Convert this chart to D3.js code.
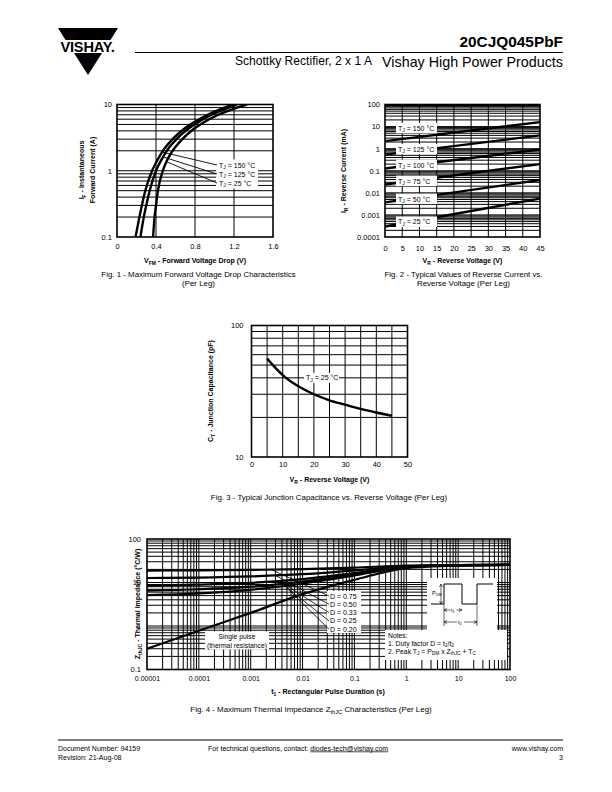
<!DOCTYPE html>
<html><head><meta charset="utf-8">
<script src="https://cdn.jsdelivr.net/npm/d3@7"></script>
<style>
body{margin:0;background:#fff}
svg{display:block}
text{font-family:"Liberation Sans",Arial,Helvetica,sans-serif;fill:#000}
</style>
</head><body>
<svg id="c" width="612" height="792"></svg>
<script>
// ---------------- DATA ----------------
// Fig 1: forward current (A) vs forward voltage (V)
const fig1Current = [0.1, 0.2, 0.3, 0.5, 1, 1.5, 2, 3, 4.3, 5.5, 7, 10];
const fig1V150 = [0.19, 0.23, 0.255, 0.29, 0.36, 0.42, 0.47, 0.57, 0.69, 0.80, 0.93, 1.19];
const fig1V125 = [0.24, 0.275, 0.30, 0.335, 0.40, 0.46, 0.51, 0.61, 0.73, 0.84, 0.97, 1.23];
const fig1V25  = [0.37, 0.385, 0.40, 0.42, 0.47, 0.52, 0.57, 0.67, 0.79, 0.90, 1.04, 1.33];
const fig1XTicks = [0, 0.4, 0.8, 1.2, 1.6];
const fig1XTickLabels = ["0", "0.4", "0.8", "1.2", "1.6"];
const fig1YTicks = [0.1, 1, 10];
const fig1YTickLabels = ["0.1", "1", "10"];
const fig1Temps = ["150", "125", "25"];
const fig1LeaderCurrent = [1.9, 1.6, 1.35];

// Fig 2: reverse current (mA) vs reverse voltage (V)
const fig2Voltage = [0, 45];
const fig2I150 = [2.2, 16];
const fig2I125 = [0.54, 4.0];
const fig2I100 = [0.126, 0.9];
const fig2I75  = [0.024, 0.2];
const fig2I50  = [0.0037, 0.038];
const fig2I25  = [0.0003, 0.0055];
const fig2Temps = ["150", "125", "100", "75", "50", "25"];
const fig2LabelAt = [8.3, 0.93, 0.18, 0.034, 0.0052, 0.00048];
const fig2XTicks = [0, 5, 10, 15, 20, 25, 30, 35, 40, 45];
const fig2YTicks = [0.0001, 0.001, 0.01, 0.1, 1, 10, 100];
const fig2YTickLabels = ["0.0001", "0.001", "0.01", "0.1", "1", "10", "100"];

// Fig 3: junction capacitance (pF) vs reverse voltage (V)
const fig3Voltage = [5, 10, 15, 20, 25, 30, 35, 40, 45];
const fig3Cap = [56, 42, 34.5, 30, 27, 25, 23.2, 21.8, 20.6];
const fig3XTicks = [0, 10, 20, 30, 40, 50];
const fig3YTicks = [10, 100];
const fig3LabelAt = [25, 40];

// Fig 4: thermal impedance (°C/W) vs pulse duration (s)
const fig4Time = [1e-5, 1e-4, 1e-3, 1e-2, 1e-1, 1, 10, 100];
const fig4D075 = [18.8, 19.0, 19.5, 20.3, 22.0, 24.5, 25.2, 25.5];
const fig4D050 = [12.7, 13.0, 13.8, 15.5, 19.0, 23.5, 25.0, 25.5];
const fig4D033 = [8.5, 8.9, 9.8, 12.0, 16.5, 23.0, 25.0, 25.5];
const fig4D025 = [6.5, 7.0, 8.0, 10.5, 15.5, 22.5, 24.8, 25.5];
const fig4D020 = [5.1, 5.6, 6.8, 9.5, 14.5, 22.5, 24.8, 25.5];
const fig4Single = [0.30, 0.78, 2.0, 5.4, 11.5, 21.5, 24.6, 25.5];
const fig4DLabels = ["D = 0.75", "D = 0.50", "D = 0.33", "D = 0.25", "D = 0.20"];
const fig4LeaderTime = [0.0025, 0.003, 0.0035, 0.004, 0.0045];
const fig4XTicks = [1e-5, 1e-4, 1e-3, 1e-2, 1e-1, 1, 10, 100];
const fig4XTickLabels = ["0.00001", "0.0001", "0.001", "0.01", "0.1", "1", "10", "100"];
const fig4YTicks = [0.1, 1, 10, 100];
const fig4YTickLabels = ["0.1", "1", "10", "100"];

// ---------------- HELPERS ----------------
const svg = d3.select("#c");
const FONT = '"Liberation Sans",Arial,Helvetica,sans-serif';
const CAP = 7.9;

function minorLog(lo, hi) {
  const out = [];
  for (let k = Math.floor(Math.log10(lo)) - 1; k <= Math.ceil(Math.log10(hi)); k++) {
    for (let m = 1; m < 10; m++) {
      const v = m * Math.pow(10, k);
      if (v > lo * 1.0001 && v < hi * 0.9999) out.push(v);
    }
  }
  return out;
}
function rich(sel, parts, fs, shift) {
  let down = false;
  parts.forEach(p => {
    const isSub = Array.isArray(p);
    const t = sel.append("tspan").text(isSub ? p[0] : p);
    if (isSub) {
      t.attr("font-size", fs * 0.72);
      if (!down) { t.attr("dy", shift); down = true; }
    } else {
      if (down) { t.attr("dy", -shift); down = false; }
    }
  });
  return sel;
}
function txt(x, y, s, opt = {}) {
  const t = svg.append("text").attr("x", x).attr("y", y)
    .attr("font-size", opt.fs || 7.5)
    .attr("text-anchor", opt.anchor || "start")
    .attr("font-weight", opt.bold ? "bold" : "normal");
  if (typeof s === "string") t.text(s); else rich(t, s, opt.fs || 7.5, opt.shift || 2);
  return t;
}
function rtxt(x, y, s, opt = {}) {
  const t = svg.append("text").attr("transform", `translate(${x},${y}) rotate(-90)`)
    .attr("font-size", opt.fs || 7.5).attr("text-anchor", "middle")
    .attr("font-weight", opt.bold ? "bold" : "normal");
  if (typeof s === "string") t.text(s); else rich(t, s, opt.fs || 7.5, opt.shift || 2);
  return t;
}
function hgrid(g, vals, sx, sy, x0, x1, w) {
  g.selectAll(null).data(vals).enter().append("line")
    .attr("x1", x0).attr("x2", x1).attr("y1", d => sy(d)).attr("y2", d => sy(d))
    .attr("stroke", "#000").attr("stroke-width", w || 1);
}
function vgrid(g, vals, sx, y0, y1, w) {
  g.selectAll(null).data(vals).enter().append("line")
    .attr("x1", d => sx(d)).attr("x2", d => sx(d)).attr("y1", y0).attr("y2", y1)
    .attr("stroke", "#000").attr("stroke-width", w || 1);
}
function frame(g, x0, y0, x1, y1) {
  g.append("rect").attr("x", x0).attr("y", y0).attr("width", x1 - x0).attr("height", y1 - y0)
    .attr("fill", "none").attr("stroke", "#000").attr("stroke-width", 1.6);
}
function axisB(g, sx, y, ticks, labels, pad, fs) {
  const ax = d3.axisBottom(sx).tickValues(ticks).tickSize(0).tickPadding(pad)
    .tickFormat((d, i) => labels[i]);
  const a = g.append("g").attr("transform", `translate(0,${y})`).call(ax);
  a.select(".domain").remove();
  a.attr("font-family", FONT).attr("font-size", fs || 7.5);
  return a;
}
function axisL(g, sy, x, ticks, labels, pad, fs) {
  const ax = d3.axisLeft(sy).tickValues(ticks).tickSize(0).tickPadding(pad)
    .tickFormat((d, i) => labels[i]);
  const a = g.append("g").attr("transform", `translate(${x},0)`).call(ax);
  a.select(".domain").remove();
  a.attr("font-family", FONT).attr("font-size", fs || 7.5);
  return a;
}
function interpLog(xs, ys, x) {
  for (let i = 0; i < xs.length - 1; i++) {
    if (x >= xs[i] && x <= xs[i + 1]) {
      const f = (Math.log10(x) - Math.log10(xs[i])) / (Math.log10(xs[i + 1]) - Math.log10(xs[i]));
      return Math.pow(10, Math.log10(ys[i]) + f * (Math.log10(ys[i + 1]) - Math.log10(ys[i])));
    }
  }
  return ys[ys.length - 1];
}
function whiteBox(g, x, y, w, h) {
  g.append("rect").attr("x", x).attr("y", y).attr("width", w).attr("height", h).attr("fill", "#fff");
}

// ---------------- HEADER ----------------
svg.append("polygon").attr("points", "58,28 118,28 110.5,40 65.5,40").attr("fill", "#000");
svg.append("polygon").attr("points", "74,53 102,53 88,75").attr("fill", "#000");
svg.append("text").attr("x", 87.5).attr("y", 51.5).attr("text-anchor", "middle")
  .attr("font-size", 14.6).attr("font-weight", "bold").attr("letter-spacing", -0.2).text("VISHAY.");
svg.append("line").attr("x1", 135).attr("x2", 563).attr("y1", 52.5).attr("y2", 52.5).attr("stroke", "#000").attr("stroke-width", 1);
txt(563, 46.5, "20CJQ045PbF", { fs: 15.4, bold: true, anchor: "end" });
txt(372, 65, "Schottky Rectifier, 2 x 1 A", { fs: 12.1, anchor: "end" });
txt(563, 66.5, "Vishay High Power Products", { fs: 14.3, anchor: "end" });

// ---------------- FIG 1 ----------------
(function () {
  const g = svg.append("g");
  const X0 = 117, X1 = 273, Y0 = 104.5, Y1 = 237;
  const sx = d3.scaleLinear().domain([0, 1.6]).range([X0, X1]);
  const sy = d3.scaleLog().domain([0.1, 10]).range([Y1, Y0]);
  hgrid(g, minorLog(0.1, 10), sx, sy, X0, X1);
  vgrid(g, [0.4, 0.8, 1.2], sx, Y0, Y1);
  const curves = [fig1V150, fig1V125, fig1V25];
  const line = d3.line().x(d => sx(d[0])).y(d => sy(d[1])).curve(d3.curveMonotoneX);
  g.append("clipPath").attr("id", "cl1").append("rect").attr("x", X0).attr("y", Y0).attr("width", X1 - X0).attr("height", Y1 - Y0);
  curves.forEach(vs => {
    g.append("path").attr("clip-path", "url(#cl1)").attr("d", line(vs.map((v, i) => [v, fig1Current[i]])))
      .attr("fill", "none").attr("stroke", "#000").attr("stroke-width", 2.4);
  });
  whiteBox(g, 216, 159.5, 42, 29);
  const labY = [167.5, 176.5, 185.5];
  curves.forEach((vs, k) => {
    const I = fig1LeaderCurrent[k];
    let V = vs[0];
    for (let i = 0; i < fig1Current.length - 1; i++) {
      if (I >= fig1Current[i] && I <= fig1Current[i + 1]) {
        const f = (Math.log10(I) - Math.log10(fig1Current[i])) / (Math.log10(fig1Current[i + 1]) - Math.log10(fig1Current[i]));
        V = vs[i] + f * (vs[i + 1] - vs[i]);
      }
    }
    g.append("line").attr("x1", sx(V) + 1).attr("y1", sy(I)).attr("x2", 217).attr("y2", labY[k] - 2.5)
      .attr("stroke", "#000").attr("stroke-width", 0.9);
    const t = g.append("text").attr("x", 219).attr("y", labY[k]).attr("font-size", 7);
    rich(t, ["T", ["J"], " = " + fig1Temps[k] + " °C"], 7, 1.5);
  });
  frame(g, X0, Y0, X1, Y1);
  axisB(g, sx, Y1, fig1XTicks, fig1XTickLabels, 7, 7.5);
  axisL(g, sy, X0, fig1YTicks, fig1YTickLabels, 5, 7.5);
  txt((X0 + X1) / 2, 263, ["V", ["FM"], " - Forward Voltage Drop (V)"], { fs: 7, bold: true, anchor: "middle" });
  rtxt(84, 170, ["I", ["F"], " - Instantaneous"], { fs: 7, bold: true });
  rtxt(94.5, 170, "Forward Current (A)", { fs: 7, bold: true });
  txt(198.5, 277, "Fig. 1 - Maximum Forward Voltage Drop Characteristics", { fs: CAP, anchor: "middle" });
  txt(198.5, 286, "(Per Leg)", { fs: CAP, anchor: "middle" });
})();

// ---------------- FIG 2 ----------------
(function () {
  const g = svg.append("g");
  const X0 = 385, X1 = 540, Y0 = 104.5, Y1 = 237;
  const sx = d3.scaleLinear().domain([0, 45]).range([X0, X1]);
  const sy = d3.scaleLog().domain([0.0001, 100]).range([Y1, Y0]);
  hgrid(g, minorLog(0.0001, 100), sx, sy, X0, X1);
  vgrid(g, [5, 10, 15, 20, 25, 30, 35, 40], sx, Y0, Y1);
  const series = [fig2I150, fig2I125, fig2I100, fig2I75, fig2I50, fig2I25];
  const line = d3.line().x(d => sx(d[0])).y(d => sy(d[1]));
  series.forEach(s => {
    g.append("path").attr("d", line(s.map((v, i) => [fig2Voltage[i], v])))
      .attr("fill", "none").attr("stroke", "#000").attr("stroke-width", 2.4);
  });
  series.forEach((s, k) => {
    const y = sy(fig2LabelAt[k]);
    whiteBox(g, 396, y - 5.5, 41, 10.5);
    const t = g.append("text").attr("x", 398).attr("y", y + 2.5).attr("font-size", 7);
    rich(t, ["T", ["J"], " = " + fig2Temps[k] + " °C"], 7, 1.5);
  });
  frame(g, X0, Y0, X1, Y1);
  axisB(g, sx, Y1, fig2XTicks, fig2XTicks.map(String), 9, 7.5);
  axisL(g, sy, X0, fig2YTicks, fig2YTickLabels, 5, 7.5);
  txt((X0 + X1) / 2, 263, ["V", ["R"], " - Reverse Voltage (V)"], { fs: 7, bold: true, anchor: "middle" });
  rtxt(346, 171, ["I", ["R"], " - Reverse Current (mA)"], { fs: 7, bold: true });
  txt(463.5, 277, "Fig. 2 - Typical Values of Reverse Current vs.", { fs: CAP, anchor: "middle" });
  txt(463.5, 286, "Reverse Voltage (Per Leg)", { fs: CAP, anchor: "middle" });
})();

// ---------------- FIG 3 ----------------
(function () {
  const g = svg.append("g");
  const X0 = 251.5, X1 = 407.5, Y0 = 325.5, Y1 = 457;
  const sx = d3.scaleLinear().domain([0, 50]).range([X0, X1]);
  const sy = d3.scaleLog().domain([10, 100]).range([Y1, Y0]);
  hgrid(g, minorLog(10, 100), sx, sy, X0, X1);
  vgrid(g, [5, 10, 15, 20, 25, 30, 35, 40, 45], sx, Y0, Y1);
  const line = d3.line().x(d => sx(d[0])).y(d => sy(d[1])).curve(d3.curveMonotoneX);
  g.append("path").attr("d", line(fig3Voltage.map((v, i) => [v, fig3Cap[i]])))
    .attr("fill", "none").attr("stroke", "#000").attr("stroke-width", 2.4);
  const ly = sy(fig3LabelAt[1]);
  whiteBox(g, 304, ly - 5, 35, 10);
  const t = g.append("text").attr("x", 306).attr("y", ly + 2.5).attr("font-size", 7);
  rich(t, ["T", ["J"], " = 25 °C"], 7, 1.5);
  frame(g, X0, Y0, X1, Y1);
  axisB(g, sx, Y1, fig3XTicks, fig3XTicks.map(String), 5, 7.5);
  axisL(g, sy, X0, fig3YTicks, ["10", "100"], 8, 7.5);
  txt((X0 + X1) / 2, 482, ["V", ["R"], " - Reverse Voltage (V)"], { fs: 7, bold: true, anchor: "middle" });
  rtxt(213, 391, ["C", ["T"], " - Junction Capacitance (pF)"], { fs: 7, bold: true });
  txt(329, 500, "Fig. 3 - Typical Junction Capacitance vs. Reverse Voltage (Per Leg)", { fs: CAP, anchor: "middle" });
})();

// ---------------- FIG 4 ----------------
(function () {
  const g = svg.append("g");
  const X0 = 147, X1 = 510, Y0 = 539, Y1 = 669.5;
  const sx = d3.scaleLog().domain([1e-5, 100]).range([X0, X1]);
  const sy = d3.scaleLog().domain([0.1, 100]).range([Y1, Y0]);
  hgrid(g, minorLog(0.1, 100), sx, sy, X0, X1);
  vgrid(g, minorLog(1e-5, 100), sx, Y0, Y1);
  const line = d3.line().x(d => sx(d[0])).y(d => sy(d[1])).curve(d3.curveMonotoneX);
  const dSeries = [fig4D075, fig4D050, fig4D033, fig4D025, fig4D020];
  dSeries.concat([fig4Single]).forEach(s => {
    g.append("path").attr("d", line(fig4Time.map((t, i) => [t, s[i]])))
      .attr("fill", "none").attr("stroke", "#000").attr("stroke-width", 2.2);
  });
  whiteBox(g, 327, 591, 34, 42);
  dSeries.forEach((s, k) => {
    const ly = 598.5 + k * 8.3;
    const tt = fig4LeaderTime[k];
    const z = interpLog(fig4Time, s, tt);
    g.append("line").attr("x1", sx(tt)).attr("y1", sy(z)).attr("x2", 329).attr("y2", ly - 2.5)
      .attr("stroke", "#000").attr("stroke-width", 0.8);
    g.append("text").attr("x", 330).attr("y", ly).attr("font-size", 7).text(fig4DLabels[k]);
  });
  whiteBox(g, 205, 631.5, 64, 18);
  g.append("text").attr("x", 237).attr("y", 639).attr("font-size", 6.8).attr("text-anchor", "middle").text("Single pulse");
  g.append("text").attr("x", 237).attr("y", 647.5).attr("font-size", 6.8).attr("text-anchor", "middle").text("(thermal resistance)");
  // pulse diagram inset
  const px = 427, py = 580;
  whiteBox(g, px, py - 2, 70, 52);
  const ip = g.append("g").attr("transform", `translate(${px},${py})`);
  ip.append("path").attr("d", "M4,24 H17 V4 H35 V24 H50 V4 H66").attr("fill", "none").attr("stroke", "#000").attr("stroke-width", 1);
  ip.append("path").attr("d", "M17,24 V46 M50,24 V46").attr("fill", "none").attr("stroke", "#000").attr("stroke-width", 0.6);
  ip.append("path").attr("d", "M14,4 V24 M12.5,7 L14,4 L15.5,7 M12.5,21 L14,24 L15.5,21").attr("fill", "none").attr("stroke", "#000").attr("stroke-width", 0.6);
  const pt = ip.append("text").attr("x", 5).attr("y", 15).attr("font-size", 5.5);
  rich(pt, ["P", ["DM"]], 5.5, 1.2);
  ip.append("path").attr("d", "M17,30 H35 M20,28.5 L17,30 L20,31.5 M32,28.5 L35,30 L32,31.5").attr("fill", "none").attr("stroke", "#000").attr("stroke-width", 0.6);
  whiteBox(ip, 23.5, 26.5, 6, 6);
  const t1 = ip.append("text").attr("x", 24).attr("y", 31.5).attr("font-size", 5.5);
  rich(t1, ["t", ["1"]], 5.5, 1);
  ip.append("path").attr("d", "M17,42 H50 M20,40.5 L17,42 L20,43.5 M47,40.5 L50,42 L47,43.5").attr("fill", "none").attr("stroke", "#000").attr("stroke-width", 0.6);
  whiteBox(ip, 30, 38.5, 7, 6);
  const t2 = ip.append("text").attr("x", 31).attr("y", 43.5).attr("font-size", 5.5);
  rich(t2, ["t", ["2"]], 5.5, 1);
  // notes
  whiteBox(g, 385, 630, 122, 30);
  g.append("text").attr("x", 388).attr("y", 637.5).attr("font-size", 6.8).text("Notes:");
  const n1 = g.append("text").attr("x", 388).attr("y", 645.5).attr("font-size", 6.8);
  rich(n1, ["1. Duty factor D = t", ["1"], "/t", ["2"]], 6.8, 1.5);
  const n2 = g.append("text").attr("x", 388).attr("y", 653.5).attr("font-size", 6.8);
  rich(n2, ["2. Peak T", ["J"], " = P", ["DM"], " x Z", ["thJC"], " + T", ["C"]], 6.8, 1.5);
  frame(g, X0, Y0, X1, Y1);
  axisB(g, sx, Y1, fig4XTicks, fig4XTickLabels, 7, 7);
  axisL(g, sy, X0, fig4YTicks, fig4YTickLabels, 6, 7.5);
  txt(328, 694, ["t", ["1"], " - Rectangular Pulse Duration (s)"], { fs: 7, bold: true, anchor: "middle" });
  rtxt(140, 604, ["Z", ["thJC"], " - Thermal Impedance (°C/W)"], { fs: 7, bold: true });
  txt(311, 712, ["Fig. 4 - Maximum Thermal Impedance Z", ["thJC"], " Characteristics (Per Leg)"], { fs: CAP, anchor: "middle" });
})();

// ---------------- FOOTER ----------------
svg.append("line").attr("x1", 58).attr("x2", 563).attr("y1", 740).attr("y2", 740).attr("stroke", "#000").attr("stroke-width", 1);
txt(58, 750.5, "Document Number: 94159", { fs: 7 });
txt(58, 759.5, "Revision: 21-Aug-08", { fs: 7 });
const ft = txt(208, 750.5, "For technical questions, contact: ", { fs: 7 });
ft.append("tspan").attr("text-decoration", "underline").text("diodes-tech@vishay.com");
txt(563, 750.5, "www.vishay.com", { fs: 7, anchor: "end" });
txt(563, 759.5, "3", { fs: 7, anchor: "end" });
</script>
</body></html>
